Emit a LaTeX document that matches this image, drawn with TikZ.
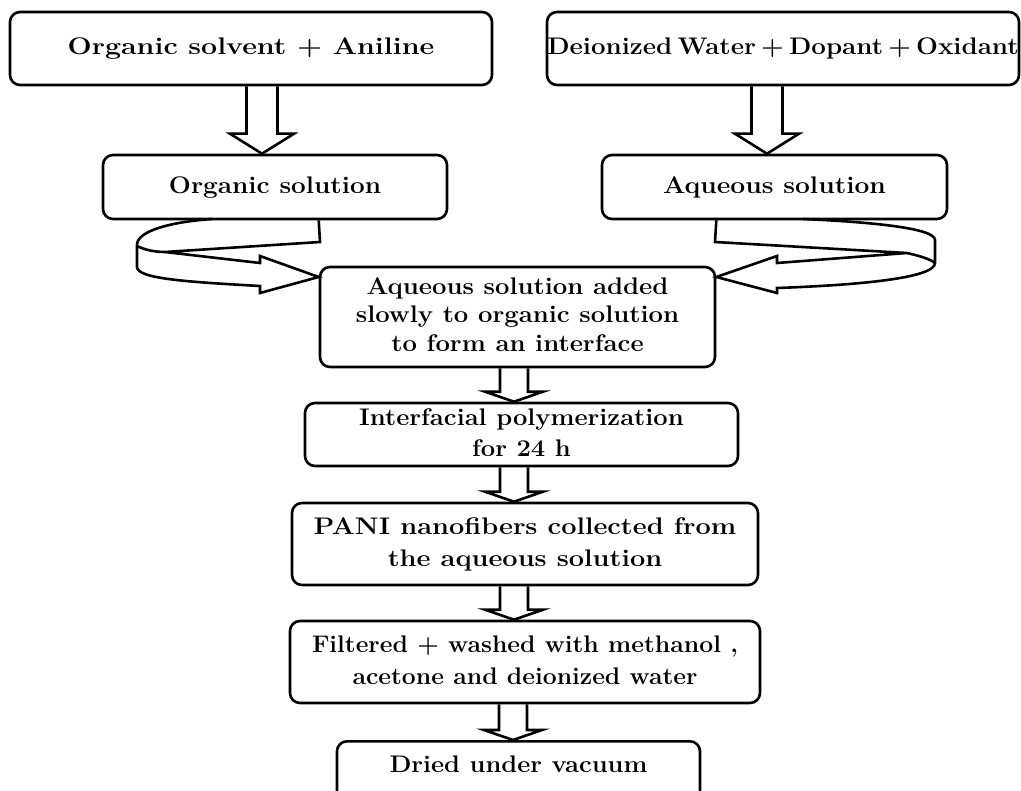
\documentclass[tikz,border=0pt]{standalone}
\usetikzlibrary{calc}
\newcommand{\wide}[2][1.1]{\scalebox{#1}[1]{\begin{tabular}{@{}c@{}}#2\end{tabular}}}
\newcommand{\narrowspace}[1]{\spaceskip=#1\relax}
\newcommand{\blockdown}[6]{%
	\draw[hollow] let \p1=(#1.south), \p2=(#2.north), \p3=(#3,0) in
		(\x3-#4,\y1) -- (\x3-#4,\y2+#6) -- (\x3-#5,\y2+#6) -- (\x3,\y2)
		-- (\x3+#5,\y2+#6) -- (\x3+#4,\y2+#6) -- (\x3+#4,\y1);}
\begin{document}
\begin{tikzpicture}[x=0.5pt, y=-0.5pt,
	stage/.style={draw, rounded corners=5pt, line width=1.3pt, inner sep=0pt,
		font=\fontsize{12}{15.5}\selectfont\bfseries},
	hollow/.style={line width=1.3pt, line join=miter},
	ribbon/.style={line width=1.3pt, line join=miter}]
	\useasboundingbox (0,0) rectangle (1021,791);
	\node[stage, minimum width=241pt, minimum height=36.5pt] (solvent) at (251,48.5) {\wide[1.19]{Organic solvent + Aniline}};
	\node[stage, minimum width=236pt, minimum height=36.5pt] (water) at (783,48.5)
		{\narrowspace{0.2em}\wide[1.08]{Deionized Water + Dopant + Oxidant}};
	\node[stage, minimum width=172pt, minimum height=32pt] (orgsol) at (275,187) {\wide[1.09]{Organic solution}};
	\node[stage, minimum width=172.5pt, minimum height=32pt] (aqsol) at (774.5,187) {\wide[1.1]{Aqueous solution}};
	\node[stage, minimum width=197.5pt, minimum height=50pt, font=\fontsize{12}{14.3}\selectfont\bfseries] (mix) at (517.5,317)
		{\wide[1.07]{Aqueous solution added\\ slowly to organic solution\\ to form an interface}};
	\node[stage, minimum width=216.5pt, minimum height=31.5pt] (poly) at (521.5,434.5)
		{\wide[1.065]{Interfacial polymerization\\ for 24 h}};
	\node[stage, minimum width=233pt, minimum height=41pt, font=\fontsize{12}{16}\selectfont\bfseries] (collect) at (525,544)
		{\wide[1.13]{PANI nanofibers collected from\\ the aqueous solution}};
	\node[stage, minimum width=235pt, minimum height=41pt, font=\fontsize{12}{16}\selectfont\bfseries] (wash) at (525,662)
		{\wide[1.03]{Filtered + washed with methanol ,\\ acetone and deionized water}};
	\node[stage, minimum width=181.5pt, minimum height=40pt, text depth=20pt, anchor=north] (dry) at (518.5,740)
		{\wide[1.06]{Dried under vacuum}};

	\blockdown{solvent}{orgsol}{262}{7.75pt}{16pt}{10pt}
	\blockdown{water}{aqsol}{767}{7.75pt}{16pt}{10pt}
	\blockdown{mix}{poly}{514}{7pt}{14.5pt}{5pt}
	\blockdown{poly}{collect}{514}{7pt}{14.5pt}{5pt}
	\blockdown{collect}{wash}{514}{7pt}{14.5pt}{5pt}
	\blockdown{wash}{dry}{513}{7pt}{14.5pt}{5pt}

	\draw[ribbon] (orgsol.south -| mix.west) -- (320,242) -- (165,252) -- (260,263) -- (260,256)
		-- ([yshift=20pt]mix.west) -- (260,293) -- (260,286) .. controls (190,282) and (137,279) .. (137,267)
		-- (137,245) .. controls (137,231) and (170,222) .. (212,219);
	\draw[ribbon] (137,246) .. controls (145,250) and (155,252) .. (165,252);
	\draw[ribbon] (aqsol.south -| mix.east) -- (715,242) -- (907,253) -- (777,263) -- (777,256)
		-- ([yshift=20pt]mix.east) -- (777,293) -- (777,288) .. controls (860,285) and (935,278) .. (935,263)
		-- (935,240) .. controls (935,228) and (870,222) .. (803,219);
	\draw[ribbon] (907,253) .. controls (920,256) and (930,259) .. (935,263);
\end{tikzpicture}
\end{document}
